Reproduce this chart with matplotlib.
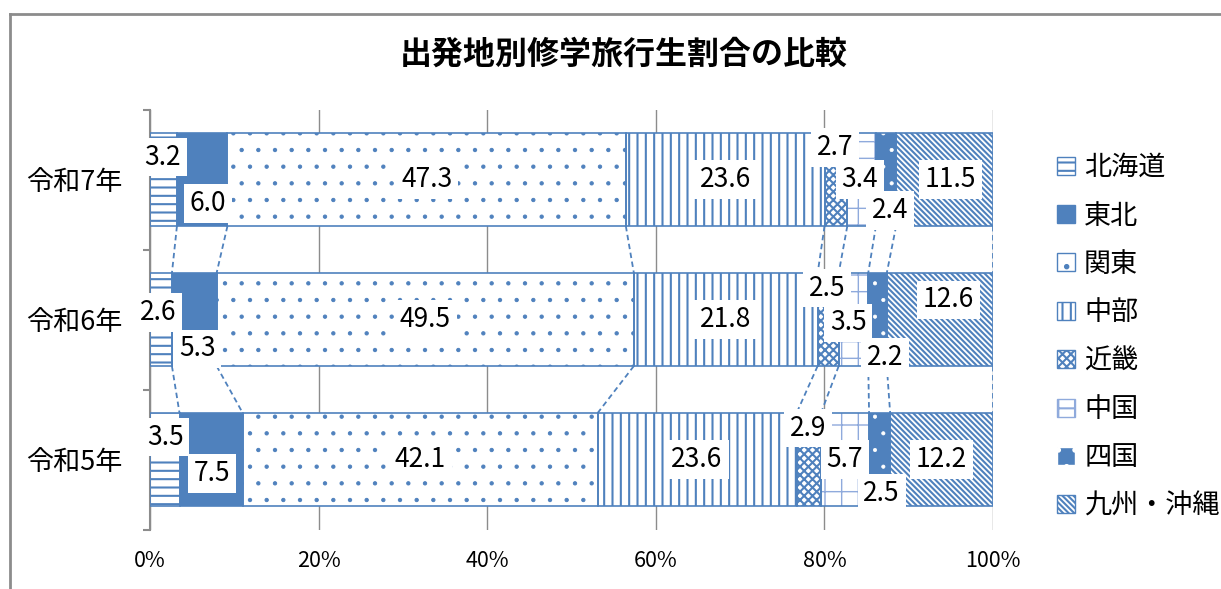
import numpy as np
import matplotlib.pyplot as plt
from matplotlib.lines import Line2D
from matplotlib.patches import Patch

plt.rcParams['font.family'] = ['Noto Sans CJK JP', 'DejaVu Sans']
plt.rcParams['hatch.linewidth'] = 1.5

years = ['令和5年', '令和6年', '令和7年']
regions = ['北海道', '東北', '関東', '中部', '近畿', '中国', '四国', '九州・沖縄']

# 割合（%）: 令和5年, 令和6年, 令和7年
hokkaido = [3.5, 2.6, 3.2]
tohoku = [7.5, 5.3, 6.0]
kanto = [42.1, 49.5, 47.3]
chubu = [23.6, 21.8, 23.6]
kinki = [2.9, 2.5, 2.7]
chugoku = [5.7, 3.5, 3.4]
shikoku = [2.5, 2.2, 2.4]
kyushu = [12.2, 12.6, 11.5]

values = np.array([hokkaido, tohoku, kanto, chubu, kinki, chugoku, shikoku, kyushu])

BLUE = '#4F81BD'
GRAY = '#8C8C8C'

# 塗り色, ハッチ, ハッチ色, ハッチ線幅
styles = [
    ('white', '--', BLUE, 1.5),
    (BLUE, '', BLUE, 1.5),
    ('white', '.', BLUE, 0.7),
    ('white', '||', BLUE, 1.5),
    ('white', 'xxxx', BLUE, 1.5),
    ('white', '+', '#8FAADC', 1.0),
    (BLUE, '.', 'white', 0.5),
    ('white', '\\' * 6, BLUE, 1.5),
]

# ラベル位置（x[%], 棒中心からのyずれ）。None は区間の中央
label_pos = [
    [(1.8, 0.16), (0.95, 0.05), (1.5, 0.16)],
    [(7.4, -0.10), (5.6, -0.21), (6.9, -0.17)],
    [None, None, None],
    [None, None, None],
    [(78.1, 0.225), (80.3, 0.225), (81.3, 0.23)],
    [(82.4, 0.0), (82.8, -0.025), (84.2, 0.0)],
    [(86.8, -0.24), (87.2, -0.27), (87.8, -0.22)],
    [None, (94.7, 0.14), (94.9, 0.0)],
]

HAS_HLW = hasattr(Patch, 'set_hatch_linewidth')


def style_patch(p, hlw):
    if HAS_HLW:
        p.set_hatch_linewidth(hlw)


W, H = 1221, 589
fig = plt.figure(figsize=(W / 100, H / 100), dpi=100)
ax = fig.add_axes([150 / W, 1 - 529.5 / H, 843 / W, 420 / H])

y = np.arange(len(years))
h = 0.664
shares = values / values.sum(axis=0) * 100
cum = np.cumsum(shares, axis=0)

left = np.zeros(len(years))
for i in range(len(regions)):
    face, hatch, hc, hlw = styles[i]
    bars = ax.barh(y, shares[i], left=left, height=h, color=face, hatch=hatch,
                   edgecolor=hc, linewidth=0, zorder=2)
    for p in bars:
        style_patch(p, hlw)
    ax.barh(y, shares[i], left=left, height=h, fill=False,
            edgecolor=BLUE, linewidth=1.2, zorder=3)
    left = left + shares[i]

# 区分線
for k in range(len(years) - 1):
    for j in range(len(regions)):
        ax.plot([cum[j, k + 1], cum[j, k]], [y[k + 1] - h / 2, y[k] + h / 2],
                ls=(0, (3, 2)), color=BLUE, lw=1.3, zorder=1)

# データラベル
for i in range(len(regions)):
    for k in range(len(years)):
        pos = label_pos[i][k]
        if pos is None:
            lx, dy = cum[i, k] - shares[i, k] / 2, 0
        else:
            lx, dy = pos
        ax.text(lx, y[k] + dy, f'{values[i, k]:.1f}', ha='center', va='center',
                fontsize=19, zorder=5,
                bbox=dict(boxstyle='square,pad=0.22', fc='white', ec='none'))

ax.set_xlim(0, 100)
ax.set_ylim(-0.5, len(years) - 0.5)
ax.set_xticks(np.arange(0, 101, 20))
ax.set_xticklabels([f'{v}%' for v in range(0, 101, 20)])
ax.xaxis.grid(True, color=GRAY, lw=1)
ax.set_axisbelow(True)
ax.tick_params(axis='x', length=0, pad=15, labelsize=15.5)

ax.set_yticks(np.arange(len(years) + 1) - 0.5)
ax.set_yticklabels([])
ax.set_yticks(y, minor=True)
ax.set_yticklabels(years, minor=True)
ax.tick_params(axis='y', which='major', length=5, width=1.5, color=GRAY, direction='out')
ax.tick_params(axis='y', which='minor', length=0, pad=20, labelsize=19.5)

for s in ['top', 'right', 'bottom']:
    ax.spines[s].set_visible(False)
ax.spines['left'].set_color(GRAY)
ax.spines['left'].set_linewidth(1.5)

fig.text(624 / W, 1 - 55 / H, '出発地別修学旅行生割合の比較', ha='center', va='center',
         fontsize=23, fontweight='bold')

handles = []
for f, ht, hc, hlw in styles:
    p = Patch(facecolor=f, hatch=ht, edgecolor=hc, linewidth=1)
    style_patch(p, hlw)
    handles.append(p)
fig.legend(handles, regions, loc='center left', bbox_to_anchor=(1057 / W, 1 - 337 / H),
           frameon=False, fontsize=19.5, handlelength=0.65, handleheight=0.65,
           handletextpad=0.35, labelspacing=0.79, borderpad=0, borderaxespad=0)

# グラフエリアの枠
fig.add_artist(Line2D([10 / W, 10 / W], [0, 1 - 14 / H], transform=fig.transFigure, color=GRAY, lw=2))
fig.add_artist(Line2D([10 / W, 1], [1 - 14 / H, 1 - 14 / H], transform=fig.transFigure, color=GRAY, lw=2))

fig.savefig('out.png', dpi=100)
